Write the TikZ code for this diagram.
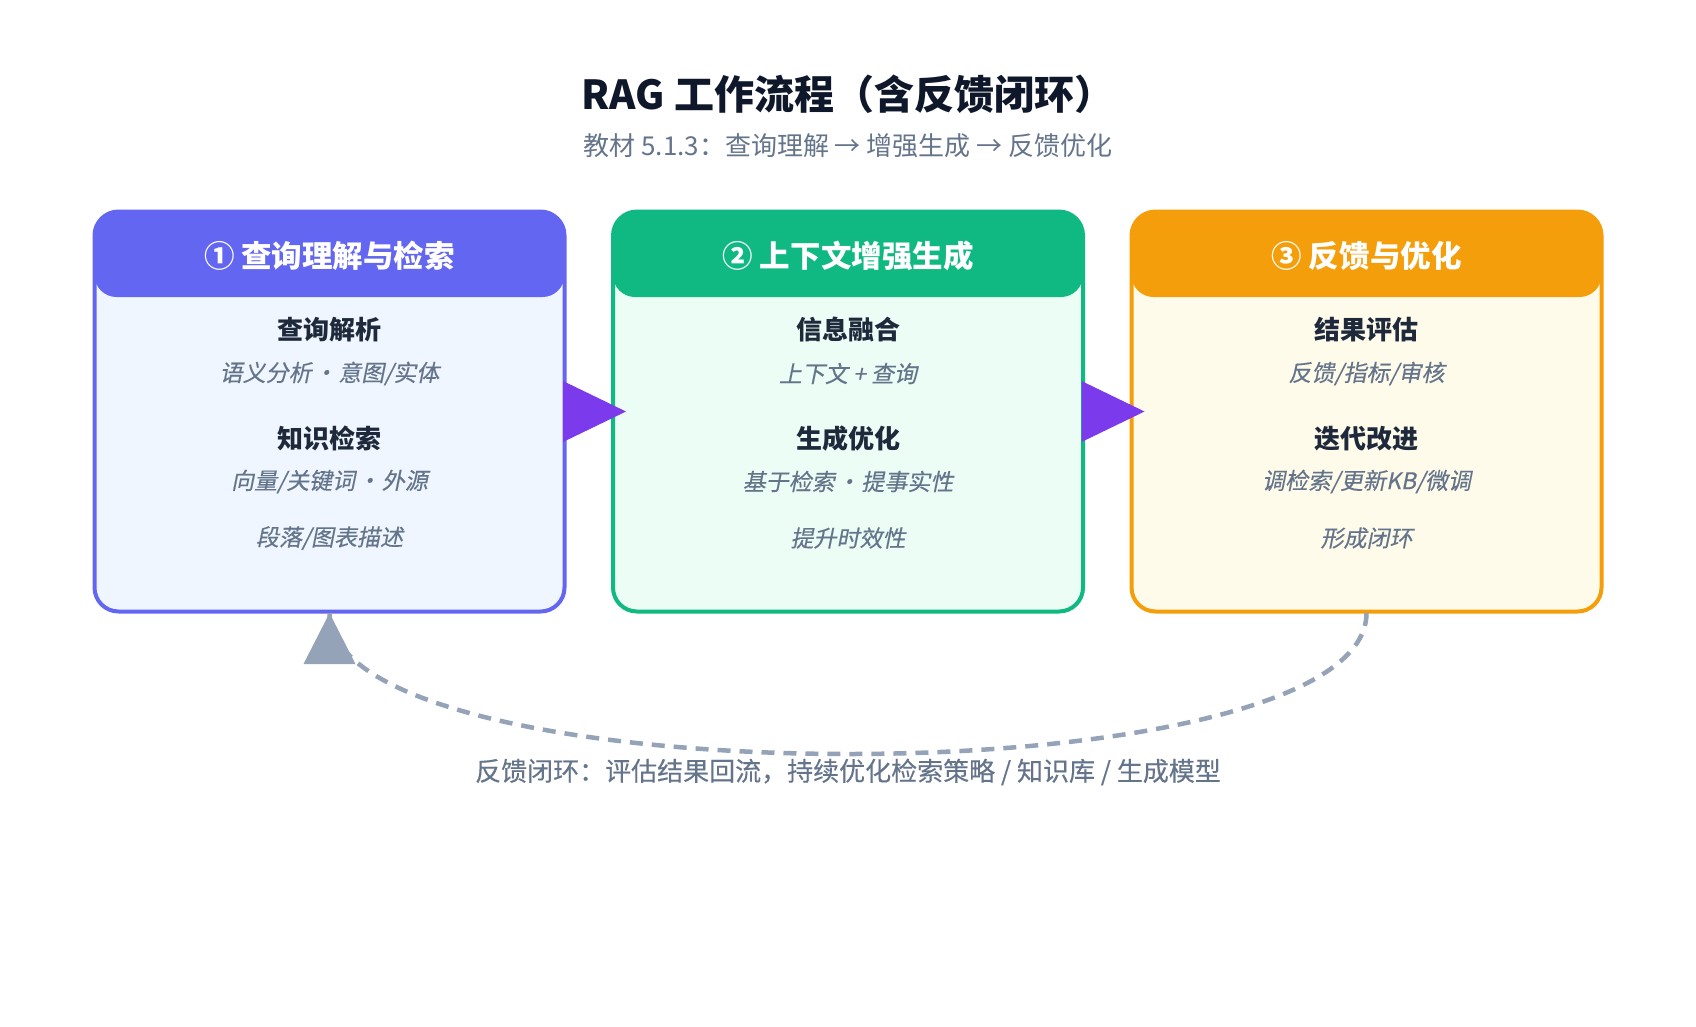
\documentclass[tikz,border=0pt]{standalone}
\usepackage{fontspec}
\setmainfont{Noto Sans CJK SC}
\newfontfamily\slfont{Noto Sans CJK SC}[FakeSlant=0.2,FakeBold=0.3]
\newfontfamily\mdfont{Noto Sans CJK SC}[FakeBold=0.3]
\usetikzlibrary{arrows.meta}
\definecolor{titlec}{HTML}{0F172A}
\definecolor{subc}{HTML}{64748B}
\definecolor{headc}{HTML}{1E293B}
\definecolor{fbc}{HTML}{94A3B8}
\definecolor{arrc}{HTML}{7C3AED}
\definecolor{cA}{HTML}{6366F1}
\definecolor{fA}{HTML}{EFF6FF}
\definecolor{cB}{HTML}{10B981}
\definecolor{fB}{HTML}{ECFDF5}
\definecolor{cC}{HTML}{F59E0B}
\definecolor{fC}{HTML}{FFFBEB}
\newcommand{\mybul}{\hspace{0.08em}•\hspace{0.08em}}
\tikzset{
  panel/.style={rectangle, rounded corners=24pt, minimum width=470pt, minimum height=400pt, line width=4pt, inner sep=0pt, outer sep=0pt},
  hdr/.style={rectangle, rounded corners=22pt, minimum width=470pt, minimum height=85.5pt, inner sep=0pt, outer sep=0pt, anchor=north},
  htext/.style={font=\fontsize{30.5}{36}\selectfont\bfseries, text=white, inner sep=0pt},
  subhead/.style={font=\fontsize{26}{32}\selectfont\bfseries, text=headc, inner sep=0pt},
  itline/.style={font=\slfont\fontsize{23}{28}\selectfont, text=subc, inner sep=0pt},
  fwd/.style={fill=arrc},
  fbline/.style={draw=fbc, line width=4.5pt, dash pattern=on 13pt off 9pt},
}
\begin{document}
\begin{tikzpicture}[x=1pt,y=-1pt]
\useasboundingbox[fill=white] (0,0) rectangle (1696,1026);

% titles
\node[font=\fontsize{40}{48}\selectfont\bfseries, text=titlec, inner sep=0pt] (title) at (848,94) {RAG 工作流程（含反馈闭环）};
\node[font=\fontsize{26}{32}\selectfont, text=subc, inner sep=0pt] (subtitle) at (848,146) {教材 5.1.3：查询理解 → 增强生成 → 反馈优化};

% panels
\node[panel, fill=fA, draw=cA] (b1) at (329.5,411.5) {};
\node[hdr, fill=cA] (h1) at (b1.north) {};
\node[panel, fill=fB, draw=cB] (b2) at (848,411.5) {};
\node[hdr, fill=cB] (h2) at (b2.north) {};
\node[panel, fill=fC, draw=cC] (b3) at (1366.5,411.5) {};
\node[hdr, fill=cC] (h3) at (b3.north) {};

% panel 1
\node[htext] (t1) at (329.5,256) {① 查询理解与检索};
\node[subhead] (s11) at (329.5,330) {查询解析};
\node[itline] (i11) at (329.5,373.5) {语义分析\mybul 意图/实体};
\node[subhead] (s12) at (329.5,438.5) {知识检索};
\node[itline] (i12) at (329.5,481.5) {向量/关键词\mybul 外源};
\node[itline] (i13) at (329.5,538) {段落/图表描述};

% panel 2
\node[htext] (t2) at (848,256) {② 上下文增强生成};
\node[subhead] (s21) at (848,330) {信息融合};
\node[itline] (i21) at (848,373.5) {上下文 + 查询};
\node[subhead] (s22) at (848,438.5) {生成优化};
\node[itline] (i22) at (848,481.5) {基于检索\mybul 提事实性};
\node[itline] (i23) at (848,538) {提升时效性};

% panel 3
\node[htext] (t3) at (1366.5,256) {③ 反馈与优化};
\node[subhead] (s31) at (1366.5,330) {结果评估};
\node[itline] (i31) at (1366.5,373.5) {反馈/指标/审核};
\node[subhead] (s32) at (1366.5,438.5) {迭代改进};
\node[itline] (i32) at (1366.5,481.5) {调检索/更新KB/微调};
\node[itline] (i33) at (1366.5,538) {形成闭环};

% forward arrows
\fill[fwd] ([xshift=-1.5pt]b1.east) ++(0,-30.5) -- ++(63,30.5) -- ++(-63,30.5) -- cycle;
\fill[fwd] ([xshift=-1.5pt]b2.east) ++(0,-30.5) -- ++(63,30.5) -- ++(-63,30.5) -- cycle;

% feedback loop
\draw[fbline] ([yshift=-1.5pt]b3.south) .. controls +(0,188) and +(0,188) .. ([yshift=-1.5pt]b1.south);
\fill[fbc] ([yshift=-1.5pt]b1.south) -- ++(26,51) -- ++(-52,0) -- cycle;
\node[font=\mdfont\fontsize{26}{32}\selectfont, text=subc, inner sep=0pt] (fblabel) at (848,772) {反馈闭环：评估结果回流，持续优化检索策略 / 知识库 / 生成模型};
\end{tikzpicture}
\end{document}
